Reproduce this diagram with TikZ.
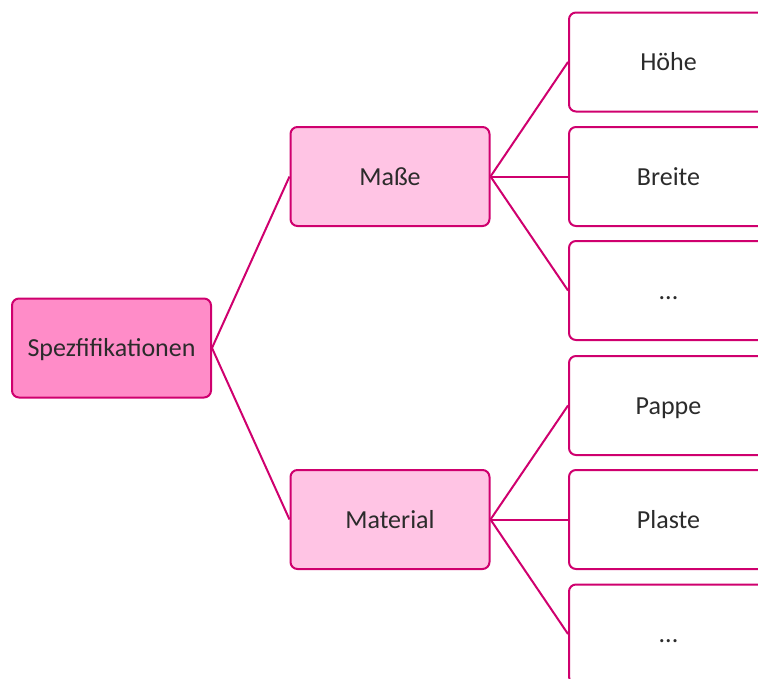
\documentclass[tikz,border=0pt]{standalone}
\usepackage{fontspec}
\setmainfont{Carlito}
\definecolor{edgec}{HTML}{CF006E}
\definecolor{rootfill}{HTML}{FF8CC8}
\definecolor{midfill}{HTML}{FFC4E4}
\definecolor{txt}{HTML}{2B2B2B}
\begin{document}
\begin{tikzpicture}[x=1pt,y=-1pt,
  box/.style={draw=edgec,line width=2pt,rounded corners=7pt,minimum width=199pt,minimum height=99pt,
    text=txt,font=\fontsize{26}{30}\selectfont,inner sep=0pt,text height=20pt,text depth=3pt},
  rootbox/.style={box,fill=rootfill},
  midbox/.style={box,fill=midfill},
  leafbox/.style={box,fill=white},
  conn/.style={draw=edgec,line width=2pt}]
\useasboundingbox (0,0) rectangle (758,678);
\node[rootbox] (root) at (111.5,348) {Spezfifikationen};
\node[midbox] (masse) at (390,176.5) {Maße};
\node[midbox] (mat) at (390,519.5) {Material};
\node[leafbox] (hoehe) at (668.5,62) {Höhe};
\node[leafbox] (breite) at (668.5,176.5) {Breite};
\node[leafbox] (dots1) at (668.5,290.5) {...};
\node[leafbox] (pappe) at (668.5,405.5) {Pappe};
\node[leafbox] (plaste) at (668.5,519.5) {Plaste};
\node[leafbox] (dots2) at (668.5,634) {...};
\draw[conn] (root.east) -- (masse.west);
\draw[conn] (root.east) -- (mat.west);
\foreach \c in {hoehe,breite,dots1} \draw[conn] (masse.east) -- (\c.west);
\foreach \c in {pappe,plaste,dots2} \draw[conn] (mat.east) -- (\c.west);
\end{tikzpicture}
\end{document}
